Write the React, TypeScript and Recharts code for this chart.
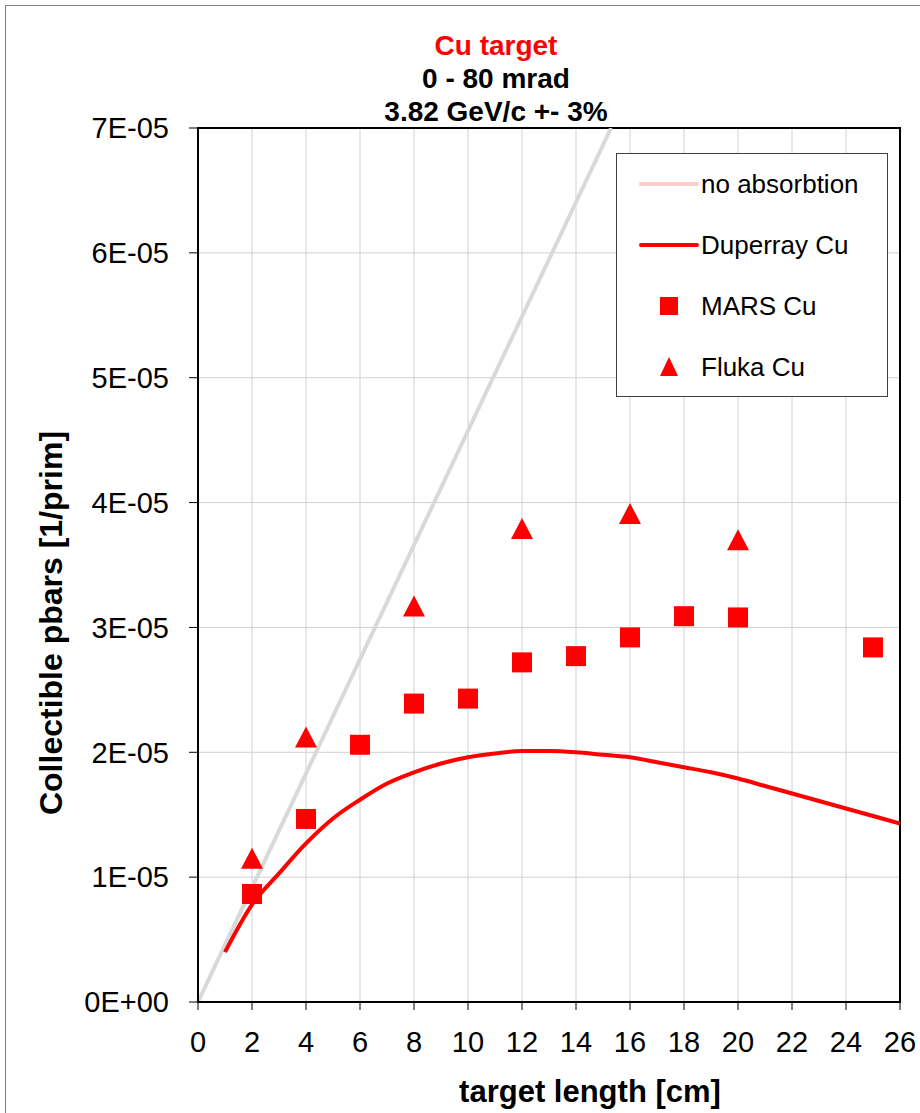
import React from "react";
import { ComposedChart, Line, Scatter, XAxis, YAxis, CartesianGrid, Legend, ReferenceArea, Label } from "recharts";

const FONT = '"Liberation Sans", Arial, sans-serif';

// target lengths [cm] and yields [1/prim]
const noAbsX: number[] = [0, 15.3];
const noAbsY: number[] = [0, 7.0e-5];

const duperrayX: number[] = [1, 2, 3, 4, 5, 6, 7, 8, 9, 10, 11, 12, 13, 14, 15, 16, 17, 18, 19, 20, 21, 22, 23, 24, 25, 26];
const duperrayY: number[] = [
  0.40e-5, 0.78e-5, 1.03e-5, 1.27e-5, 1.47e-5, 1.62e-5, 1.75e-5, 1.84e-5, 1.91e-5, 1.96e-5,
  1.99e-5, 2.01e-5, 2.01e-5, 2.0e-5, 1.98e-5, 1.96e-5, 1.92e-5, 1.88e-5, 1.84e-5, 1.79e-5,
  1.73e-5, 1.67e-5, 1.61e-5, 1.55e-5, 1.49e-5, 1.43e-5,
];

const marsX: number[] = [2, 4, 6, 8, 10, 12, 14, 16, 18, 20, 25];
const marsY: number[] = [0.865e-5, 1.466e-5, 2.06e-5, 2.39e-5, 2.43e-5, 2.72e-5, 2.77e-5, 2.92e-5, 3.09e-5, 3.08e-5, 2.84e-5];

const flukaX: number[] = [2, 4, 8, 12, 16, 20];
const flukaY: number[] = [1.14e-5, 2.11e-5, 3.16e-5, 3.78e-5, 3.9e-5, 3.69e-5];

const xTicks: number[] = [0, 2, 4, 6, 8, 10, 12, 14, 16, 18, 20, 22, 24, 26];
const yTicks: number[] = [0, 1e-5, 2e-5, 3e-5, 4e-5, 5e-5, 6e-5, 7e-5];

const titleLines = ["Cu target", "0 - 80 mrad", "3.82 GeV/c +- 3%"];

const toPts = (xs: number[], ys: number[]) => xs.map((x, i) => ({ x, y: ys[i] }));

const noAbsData = toPts(noAbsX, noAbsY);
const duperrayData = toPts(duperrayX, duperrayY);
const marsData = toPts(marsX, marsY);
const flukaData = toPts(flukaX, flukaY);

const fmtY = (v: number) => (v === 0 ? "0E+00" : `${Math.round(v * 1e5)}E-05`);

const Square = (p: any) => <rect x={p.cx - 10} y={p.cy - 10} width={20} height={20} fill="#ff0000" />;
const Triangle = (p: any) => (
  <polygon points={`${p.cx},${p.cy - 12} ${p.cx + 11},${p.cy + 9} ${p.cx - 11},${p.cy + 9}`} fill="#ff0000" />
);

function LegendBox() {
  const rows = [
    { name: "no absorbtion", kind: "line", color: "#ffcccc" },
    { name: "Duperray Cu", kind: "line", color: "#ff0000" },
    { name: "MARS Cu", kind: "square", color: "#ff0000" },
    { name: "Fluka Cu", kind: "triangle", color: "#ff0000" },
  ];
  return (
    <div style={{ position: "relative", width: 270, height: 242, border: "1px solid #404040", background: "#fff", boxSizing: "content-box", fontFamily: FONT }}>
      {rows.map((r, i) => (
        <div key={i} style={{ position: "absolute", left: 0, top: 12 + i * 61, height: 36, display: "flex", alignItems: "center" }}>
          <svg width={84} height={36}>
            {r.kind === "line" && <line x1={24} y1={18} x2={80} y2={18} stroke={r.color} strokeWidth={4} strokeLinecap="round" />}
            {r.kind === "square" && <rect x={43} y={9} width={18} height={18} fill={r.color} />}
            {r.kind === "triangle" && <polygon points="52,8 61,27 43,27" fill={r.color} />}
          </svg>
          <span style={{ fontSize: 26, color: "#000", whiteSpace: "nowrap" }}>{r.name}</span>
        </div>
      ))}
    </div>
  );
}

export default function App() {
  return (
    <div style={{ position: "absolute", left: 0, top: 0, width: 920, height: 1113, background: "#fff", overflow: "hidden", fontFamily: FONT }}>
      <div style={{ position: "absolute", left: 5, top: 5, width: 940, height: 1130, borderTop: "1px solid #808080", borderLeft: "1px solid #808080" }} />
      {titleLines.map((t, i) => (
        <div
          key={i}
          style={{
            position: "absolute",
            left: 0,
            width: 992,
            top: 29 + i * 33,
            textAlign: "center",
            fontSize: 28,
            lineHeight: "34px",
            fontWeight: "bold",
            color: i === 0 ? "#ff0000" : "#000",
          }}
        >
          {t}
        </div>
      ))}
      <ComposedChart width={920} height={1113} margin={{ top: 128, right: 20, bottom: 0, left: 0 }} style={{ position: "absolute", left: 0, top: 0 }}>
        <CartesianGrid stroke="#d0d0d0" strokeWidth={1} />
        <XAxis
          type="number"
          dataKey="x"
          domain={[0, 26]}
          ticks={xTicks}
          interval={0}
          allowDataOverflow
          height={111}
          tickSize={8}
          tickMargin={21}
          axisLine={{ stroke: "#000", strokeWidth: 2 }}
          tickLine={{ stroke: "#000", strokeWidth: 1 }}
          tick={{ fill: "#000", fontSize: 29, fontFamily: FONT }}
        >
          <Label
            content={() => (
              <text x={590} y={1102} textAnchor="middle" fontSize={31} fontWeight="bold" fontFamily={FONT} fill="#000">
                target length [cm]
              </text>
            )}
          />
        </XAxis>
        <YAxis
          type="number"
          dataKey="y"
          domain={[0, 7e-5]}
          ticks={yTicks}
          interval={0}
          allowDataOverflow
          width={198}
          tickSize={9}
          tickMargin={20}
          tickFormatter={fmtY}
          axisLine={{ stroke: "#000", strokeWidth: 2 }}
          tickLine={{ stroke: "#000", strokeWidth: 1 }}
          tick={{ fill: "#000", fontSize: 29, fontFamily: FONT }}
        >
          <Label
            content={() => (
              <text transform="translate(62,623) rotate(-90)" textAnchor="middle" fontSize={32} fontWeight="bold" fontFamily={FONT} fill="#000">
                Collectible pbars [1/prim]
              </text>
            )}
          />
        </YAxis>
        <Line data={noAbsData} dataKey="y" name="no absorbtion" type="linear" stroke="#d9d9d9" strokeWidth={4} dot={false} isAnimationActive={false} />
        <Line data={duperrayData} dataKey="y" name="Duperray Cu" type="monotone" stroke="#ff0000" strokeWidth={4} dot={false} isAnimationActive={false} />
        <Scatter data={marsData} dataKey="y" name="MARS Cu" shape={Square} isAnimationActive={false} />
        <Scatter data={flukaData} dataKey="y" name="Fluka Cu" shape={Triangle} isAnimationActive={false} />
        <ReferenceArea x1={0} x2={26} y1={0} y2={7e-5} fill="none" stroke="#000" strokeWidth={2} ifOverflow="visible" />
        <Legend
          layout="vertical"
          align="center"
          verticalAlign="middle"
          content={() => <LegendBox />}
          wrapperStyle={{ left: 616, top: 153, width: 272, height: 244 }}
        />
      </ComposedChart>
    </div>
  );
}
